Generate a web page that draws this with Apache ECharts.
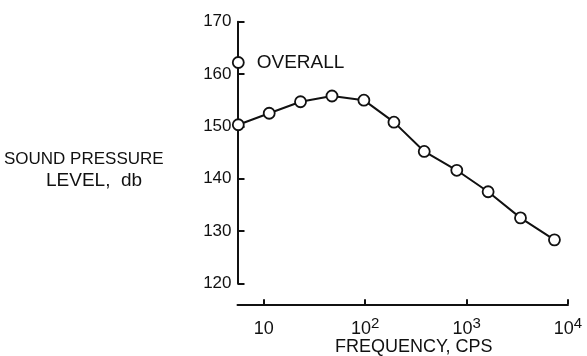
<!DOCTYPE html>
<html>
<head>
<meta charset="utf-8">
<script src="https://cdn.jsdelivr.net/npm/echarts@6/dist/echarts.min.js"></script>
<style>
  html, body { margin: 0; padding: 0; background: #fff; }
  #chart { width: 587px; height: 356px; }
</style>
</head>
<body>
<div id="chart"></div>
<script>
// octave band levels
var freqs = [5.6, 11.3, 23, 47, 97, 192, 382, 800, 1630, 3400, 7350];
var levels = [150.3, 152.5, 154.7, 155.8, 155.0, 150.8, 145.2, 141.6, 137.5, 132.5, 128.3];
var overall = [5.6, 162.2];
var xTicks = [10, 100, 1000, 10000];

var ink = '#111';
var font = 'Liberation Sans';

var myChart = echarts.init(document.getElementById('chart'));

var option = {
    backgroundColor: '#fff',
    animation: false,
    title: [{
        text: 'SOUND PRESSURE',
        left: 4,
        top: 151,
        padding: 0,
        textStyle: { fontFamily: font, fontSize: 17, fontWeight: 'normal', color: ink }
    }, {
        text: 'LEVEL,  db',
        left: 46,
        top: 171,
        padding: 0,
        textStyle: { fontFamily: font, fontSize: 19, fontWeight: 'normal', color: ink }
    }],
    grid: {
        left: 237.5,
        top: 21.7,
        right: 19,
        bottom: 72.7,
        outerBoundsMode: 'none'
    },
    xAxis: {
        type: 'log',
        min: 5.5,
        max: 10000,
        offset: 21,
        name: 'FREQUENCY, CPS',
        nameLocation: 'middle',
        nameGap: 34,
        nameMoveOverlap: false,
        nameTextStyle: { fontFamily: font, fontSize: 18, color: ink, padding: [0, 0, 0, 22] },
        axisLine: { lineStyle: { color: ink, width: 2 } },
        axisTick: { inside: true, length: 5, customValues: xTicks, lineStyle: { color: ink, width: 2 } },
        axisLabel: {
            customValues: xTicks,
            margin: 12,
            formatter: function (v) {
                var e = Math.round(Math.log(v) / Math.LN10);
                if (e === 1) return '{b|10}';
                return '{b|10}{s|' + e + '}';
            },
            rich: {
                b: { fontFamily: font, fontSize: 18, lineHeight: 22, color: ink, verticalAlign: 'bottom' },
                s: { fontFamily: font, fontSize: 15, lineHeight: 12, color: ink, verticalAlign: 'top' }
            }
        },
        splitLine: { show: false }
    },
    yAxis: {
        type: 'value',
        min: 120,
        max: 170,
        interval: 10,
        axisLine: { show: true, lineStyle: { color: ink, width: 2 } },
        axisTick: { show: true, inside: true, length: 7, lineStyle: { color: ink, width: 2 } },
        axisLabel: { fontFamily: font, fontSize: 17, color: ink, margin: 6 },
        splitLine: { show: false }
    },
    series: [{
        type: 'line',
        data: freqs.map(function (f, i) { return [f, levels[i]]; }),
        symbol: 'circle',
        symbolSize: 11,
        lineStyle: { color: ink, width: 2 },
        itemStyle: { color: '#fff', borderColor: ink, borderWidth: 1.8, opacity: 1 },
        z: 5
    }, {
        type: 'scatter',
        data: [overall],
        symbol: 'circle',
        symbolSize: 11,
        itemStyle: { color: '#fff', borderColor: ink, borderWidth: 1.8, opacity: 1 },
        label: {
            show: true,
            position: 'right',
            distance: 12,
            formatter: 'OVERALL',
            fontFamily: font,
            fontSize: 19,
            color: ink
        },
        z: 5
    }]
};

myChart.setOption(option);
</script>
</body>
</html>
